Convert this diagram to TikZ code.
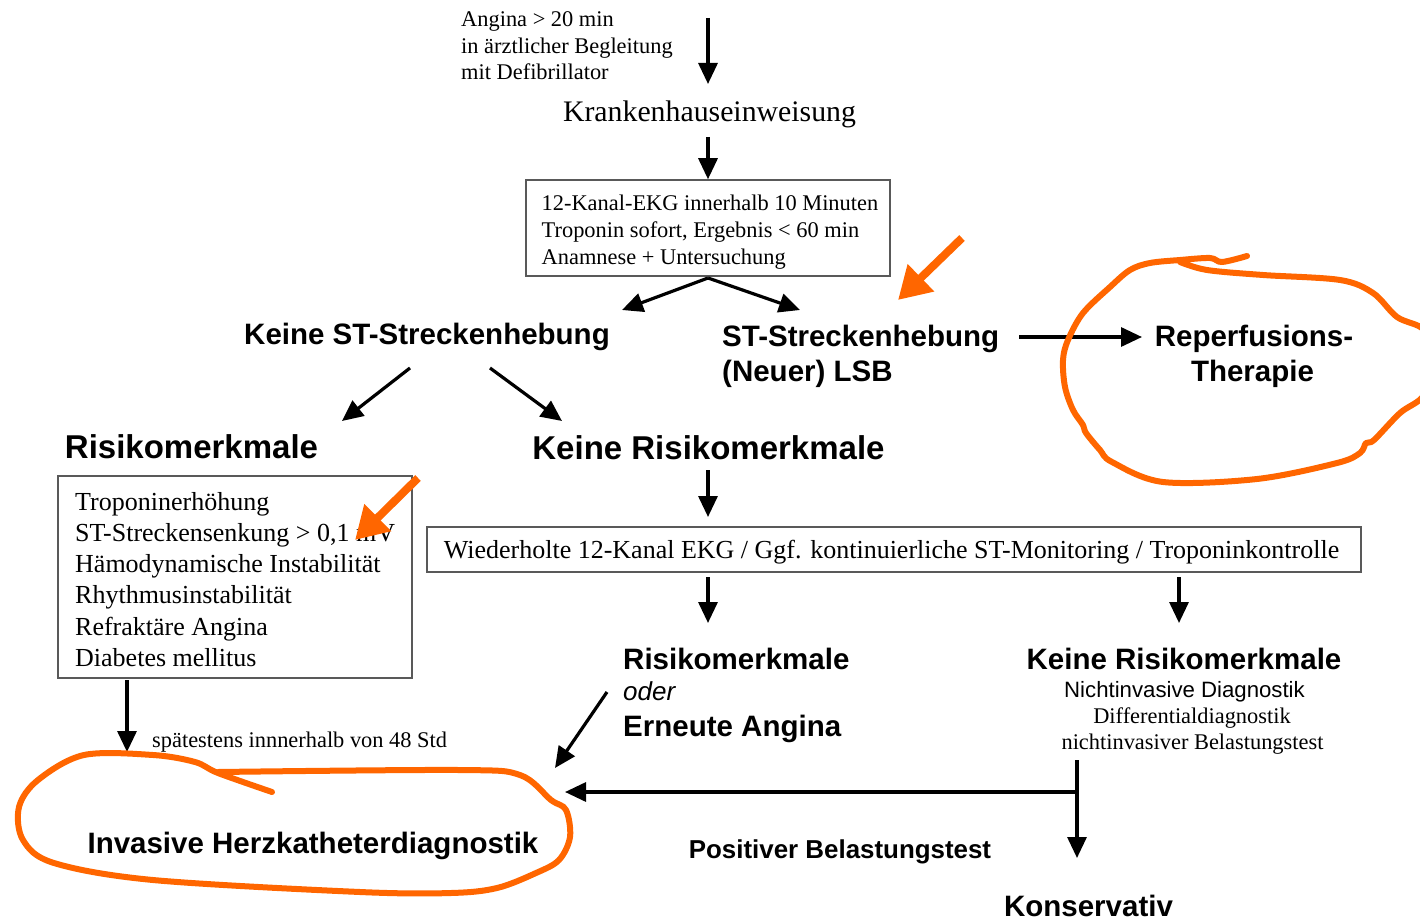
\documentclass[tikz,border=0pt]{standalone}
\usepackage{fontspec}
\setmainfont{Liberation Serif}
\setsansfont{Liberation Sans}
\usetikzlibrary{arrows.meta}
\definecolor{anno}{RGB}{255,102,0}
\begin{document}
\begin{tikzpicture}[x=1pt,y=-1pt,
  arr/.style={-{Triangle[length=21pt,width=19pt]}, line width=3.2pt},
  oarr/.style={-{Triangle[length=32pt,width=36pt]}, line width=8pt, draw=anno},
  ring/.style={draw=anno, line width=6pt, line cap=round, line join=round},
  bx/.style={draw=black!65, line width=1.5pt, inner sep=0pt},
  tr/.style={font=\fontsize{22.4}{26}\selectfont, inner sep=0pt},
  trm/.style={font=\fontsize{26}{30}\selectfont, inner sep=0pt},
  trk/.style={font=\fontsize{29.8}{34}\selectfont, inner sep=0pt},
  sb/.style={font=\sffamily\bfseries\fontsize{29.5}{35}\selectfont, inner sep=0pt},
  sbl/.style={font=\sffamily\bfseries\fontsize{33}{38}\selectfont, inner sep=0pt},
  sbs/.style={font=\sffamily\bfseries\fontsize{25.9}{30}\selectfont, inner sep=0pt},
  sr/.style={font=\sffamily\fontsize{22.2}{26}\selectfont, inner sep=0pt},
  si/.style={font=\sffamily\itshape\fontsize{26}{30}\selectfont, inner sep=0pt},
]
\useasboundingbox (0,0) rectangle (1420,920);
\clip (0,0) rectangle (1420,920);

% ---- top
\node[tr, anchor=base west] (ang1) at (461,27) {Angina > 20 min};
\node[tr, anchor=base west] (ang2) at (461,54) {in ärztlicher Begleitung};
\node[tr, anchor=base west] (ang3) at (461,80) {mit Defibrillator};
\node[trk, anchor=base] (kh) at (709.5,122) {Krankenhauseinweisung};

% ---- box 1
\node[bx, minimum width=364pt, minimum height=96pt] (box1) at (708,228) {};
\node[tr, anchor=base west] (b1a) at (541.5,210) {12-Kanal-EKG innerhalb 10 Minuten};
\node[tr, anchor=base west] (b1b) at (541.5,237) {Troponin sofort, Ergebnis < 60 min};
\node[tr, anchor=base west] (b1c) at (541.5,264) {Anamnese + Untersuchung};

% ---- ST level
\node[sb, anchor=base] (kst) at (427,344) {Keine ST-Streckenhebung};
\node[sb, anchor=base west] (sth1) at (722,346) {ST-Streckenhebung};
\node[sb, anchor=base west] (sth2) at (722,381) {(Neuer) LSB};
\node[sb, anchor=base] (rep1) at (1254,346) {Reperfusions-};
\node[sb, anchor=base] (rep2) at (1252.5,381) {Therapie};

% ---- risk level
\node[sbl, anchor=base] (rk) at (191.5,458) {Risikomerkmale};
\node[sbl, anchor=base] (krk) at (708.5,459) {Keine Risikomerkmale};

% ---- risk box
\node[bx, minimum width=354pt, minimum height=202pt] (rbox) at (235,577) {};
\node[trm, anchor=base west] (r1) at (75,510) {Troponinerhöhung};
\node[trm, anchor=base west] (r2) at (75,541) {ST-Streckensenkung > 0,1 mV};
\node[trm, anchor=base west] (r3) at (75,572.5) {Hämodynamische Instabilität};
\node[trm, anchor=base west] (r4) at (75,603.5) {Rhythmusinstabilität};
\node[trm, anchor=base west] (r5) at (75,635) {Refraktäre Angina};
\node[trm, anchor=base west] (r6) at (75,666) {Diabetes mellitus};

% ---- wide box
\node[bx, minimum width=934pt, minimum height=45pt] (wbox) at (894,549.5) {};
\node[trm, anchor=base] (wt) at (891.5,558) {Wiederholte 12-Kanal EKG / Ggf. kontinuierliche ST-Monitoring / Troponinkontrolle};

% ---- lower level
\node[sb, anchor=base west] (m1) at (623,669) {Risikomerkmale};
\node[si, anchor=base west] (m2) at (623,700) {oder};
\node[sb, anchor=base west] (m3) at (623,736) {Erneute Angina};

\node[sb, anchor=base] (kr2) at (1184,669) {Keine Risikomerkmale};
\node[sr, anchor=base] (n1) at (1184.5,697) {Nichtinvasive Diagnostik};
\node[tr, anchor=base] (n2) at (1192,723) {Differentialdiagnostik};
\node[tr, anchor=base] (n3) at (1192.5,749) {nichtinvasiver Belastungstest};

\node[tr, anchor=base west] (spaet) at (152,747) {spätestens innnerhalb von 48 Std};
\node[sb, anchor=base] (inv) at (313,853) {Invasive Herzkatheterdiagnostik};
\node[sbs, anchor=base] (pos) at (840,858) {Positiver Belastungstest};
\node[sb, anchor=base] (kons) at (1088.5,916) {Konservativ};

% ---- connector end points
\coordinate (t0) at (708,18);
\coordinate (t1) at (708,84);
\coordinate (k2) at (708,137);
\coordinate (s0) at (708,278);
\coordinate (sL) at (622,310);
\coordinate (sR) at (800,310);
\coordinate (e0) at (1019,337);
\coordinate (e1) at (1142,337);
\coordinate (dL0) at (410,368);
\coordinate (dL1) at (342,421);
\coordinate (dR0) at (490,368);
\coordinate (dR1) at (562,421);
\coordinate (w0) at (708,470);
\coordinate (w1) at (708,517);
\coordinate (wL0) at (708,577);
\coordinate (wL1) at (708,623);
\coordinate (wR0) at (1179,577);
\coordinate (wR1) at (1179,623);
\coordinate (rb0) at (127,680);
\coordinate (rb1) at (127,752);
\coordinate (ma0) at (607,692);
\coordinate (ma1) at (555,768);
\coordinate (v0) at (1077,760);
\coordinate (junc) at (1077,792);
\coordinate (v1) at (1077,858);
\coordinate (h1) at (565,792);

% ---- connectors
\draw[arr] (t0) -- (t1);
\draw[arr] (k2) -- (box1.north);
\draw[arr] (s0) -- (sL);
\draw[arr] (s0) -- (sR);
\draw[arr] (e0) -- (e1);
\draw[arr] (dL0) -- (dL1);
\draw[arr] (dR0) -- (dR1);
\draw[arr] (w0) -- (w1);
\draw[arr] (wL0) -- (wL1);
\draw[arr] (wR0) -- (wR1);
\draw[arr] (rb0) -- (rb1);
\draw[arr] (ma0) -- (ma1);
\draw[arr] (v0) -- (v1);
\draw[arr] (junc) -- (h1);

% ---- orange annotations
\coordinate (o1a) at (962,238);
\coordinate (o1b) at (898,300);
\coordinate (o2a) at (418,478);
\coordinate (o2b) at (355,540);
\draw[oarr] (o1a) -- (o1b);
\draw[oarr] (o2a) -- (o2b);

\draw[ring] plot[smooth, tension=0.55] coordinates {
 (1247,256) (1222,262) (1210,258) (1180,260) (1150,263) (1130,270) (1110,287)
 (1083,313) (1068,340) (1063,360) (1065,387) (1073,410) (1083,425) (1086,433)
 (1100,450) (1112,462) (1163,482) (1257,479) (1337,463) (1360,453) (1366,443)
 (1374,440) (1400,413) (1424,395) (1432,360) (1424,330) (1397,317) (1373,293)
 (1340,280) (1263,275) (1207,270) (1180,262)};

\draw[ring] plot[smooth, tension=0.55] coordinates {
 (272,792) (218,773) (195,762) (153,755) (84,755) (38,780) (19,807) (23,840)
 (54,863) (153,880) (360,892) (451,893) (497,888) (536,873) (559,860) (570,837)
 (566,810) (551,800) (520,775) (459,770) (218,772)};
\end{tikzpicture}
\end{document}
